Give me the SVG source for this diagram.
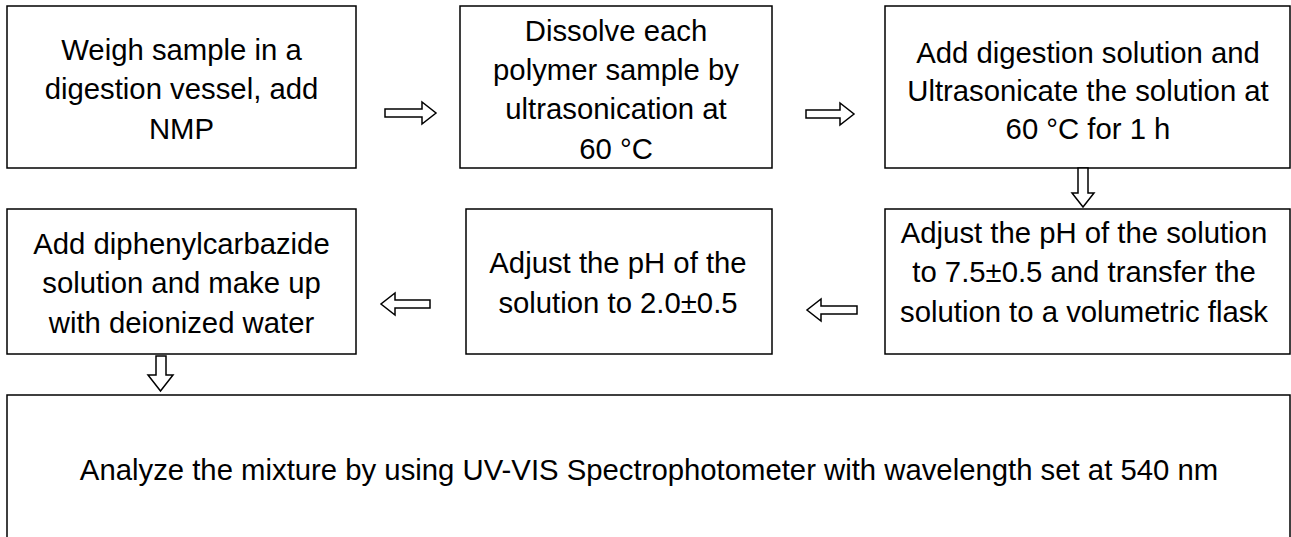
<svg xmlns="http://www.w3.org/2000/svg" width="1291" height="537" viewBox="0 0 1291 537">
<style>
.box{fill:#fff;stroke:#000;stroke-width:1.5}
.t{font-family:"Liberation Sans",Arial,sans-serif;font-size:29.3px;fill:#000;text-anchor:middle}
.arr{fill:#fff;stroke:#000;stroke-width:1.5;stroke-linejoin:miter}
</style>
<rect width="1291" height="537" fill="#fff"/>
<g id="n1"><rect class="box" x="7" y="6" width="349" height="162"/>
<text class="t" x="181.5"><tspan x="181.5" y="60">Weigh sample in a</tspan><tspan x="181.5" y="99">digestion vessel, add</tspan><tspan x="181.5" y="139">NMP</tspan></text></g>
<g id="n2"><rect class="box" x="460" y="6" width="312" height="162"/>
<text class="t"><tspan x="616" y="41">Dissolve each</tspan><tspan x="616" y="80">polymer sample by</tspan><tspan x="616" y="119">ultrasonication at</tspan><tspan x="616" y="159">60 °C</tspan></text></g>
<g id="n3"><rect class="box" x="885" y="6" width="405" height="162"/>
<text class="t"><tspan x="1088" y="63">Add digestion solution and</tspan><tspan x="1088" y="101">Ultrasonicate the solution at</tspan><tspan x="1088" y="139">60 °C for 1 h</tspan></text></g>
<g id="n4"><rect class="box" x="7" y="209" width="349" height="145"/>
<text class="t"><tspan x="181.5" y="254">Add diphenylcarbazide</tspan><tspan x="181.5" y="293">solution and make up</tspan><tspan x="181.5" y="333">with deionized water</tspan></text></g>
<g id="n5"><rect class="box" x="466" y="209" width="306" height="145"/>
<text class="t"><tspan x="618" y="273">Adjust the pH of the</tspan><tspan x="618" y="313">solution to 2.0±0.5</tspan></text></g>
<g id="n6"><rect class="box" x="885" y="209" width="405" height="145"/>
<text class="t"><tspan x="1084" y="243">Adjust the pH of the solution</tspan><tspan x="1084" y="282">to 7.5±0.5 and transfer the</tspan><tspan x="1084" y="322">solution to a volumetric flask</tspan></text></g>
<g id="n7"><rect class="box" x="7" y="395" width="1283" height="170"/>
<text class="t" x="649" y="480">Analyze the mixture by using UV-VIS Spectrophotometer with wavelength set at 540 nm</text></g>
<g id="connectors">
<path class="arr" d="M385,109 H422 V102 L436,113 L422,124 V117 H385 Z"/>
<path class="arr" d="M806,110 H840 V103 L854,114 L840,125 V118 H806 Z"/>
<path class="arr" d="M1078,168 V193 H1072 L1083,207 L1094,193 H1088 V168 Z"/>
<path class="arr" d="M857,306 H821 V299 L807,310 L821,321 V314 H857 Z"/>
<path class="arr" d="M430,300 H395 V293 L381,304 L395,315 V308 H430 Z"/>
<path class="arr" d="M156,356 V375 H148 L160.5,391 L173,375 H166 V356 Z"/>
</g>
</svg>
